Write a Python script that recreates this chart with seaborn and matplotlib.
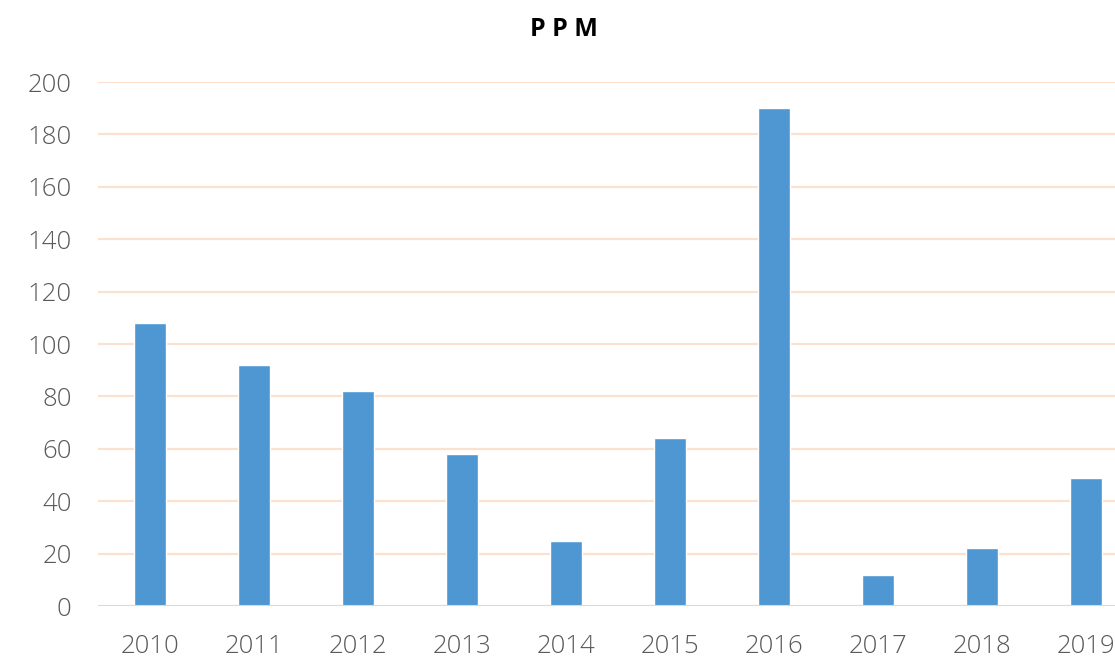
import matplotlib
matplotlib.use("Agg")
import matplotlib.pyplot as plt
import seaborn as sns
import pandas as pd

# data
years = ["2010", "2011", "2012", "2013", "2014", "2015", "2016", "2017", "2018", "2019"]
ppm = [108, 92, 82, 58, 25, 64, 190, 12, 22, 49]
y_ticks = [0, 20, 40, 60, 80, 100, 120, 140, 160, 180, 200]

sns.set_theme(style="white")
plt.rcParams['font.family'] = ['Open Sans', 'DejaVu Sans']

df = pd.DataFrame({"year": years, "ppm": ppm})

fig = plt.figure(figsize=(11.15, 6.57), dpi=100)
ax = fig.add_axes([98 / 1115, 51 / 657, 1017 / 1115, 524 / 657])

sns.barplot(data=df, x="year", y="ppm", color="#4E97D3", width=0.31,
            saturation=1, ax=ax, zorder=3)

ax.set_ylim(0, 200)
ax.set_xlim(-0.5, 9.28)
ax.set_yticks(y_ticks)
for t in y_ticks[1:]:
    ax.axhline(t, color="#FCE1CF", lw=1.6, zorder=1)
ax.axhline(0, color="#D9D9D9", lw=1.5, zorder=4)

for s in ax.spines.values():
    s.set_visible(False)
ax.set_xlabel("")
ax.set_ylabel("")
ax.tick_params(axis="both", length=0, labelsize=18.5, labelcolor="#595959")
ax.tick_params(axis="x", pad=20)
ax.tick_params(axis="y", pad=19)
for lbl in ax.get_xticklabels() + ax.get_yticklabels():
    lbl.set_fontweight("light")

fig.text(564 / 1115, 1 - 29 / 657, "P P M", ha="center", va="center",
         fontsize=18, fontweight="bold", color="#000000")

fig.savefig("out.png", dpi=100)
